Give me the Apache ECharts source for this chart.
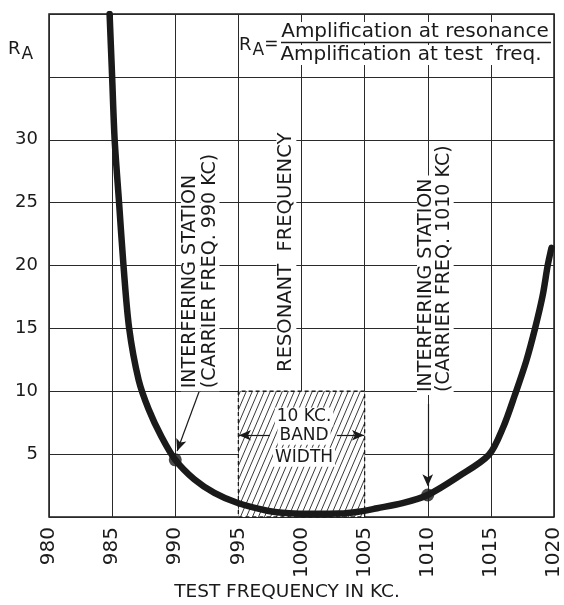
<!DOCTYPE html>
<html>
<head>
<meta charset="utf-8">
<script src="https://cdn.jsdelivr.net/npm/echarts@6/dist/echarts.min.js"></script>
<style>html,body{margin:0;padding:0;background:#fff}#c{width:564px;height:605px}</style>
</head>
<body>
<div id="c"></div>
<script>
// ---- data ----
const freq = [984.8, 985.0, 985.2, 985.55, 985.9, 986.35, 987.1, 987.9, 988.9, 990, 991.5, 993.1, 994.9, 997.3, 999, 1001, 1003, 1004.5, 1006, 1008, 1010, 1012.4, 1014.85, 1016, 1016.9, 1017.8, 1018.5, 1019.1, 1019.5, 1019.8];
const ratio = [40, 35, 30, 25, 20, 15, 10.9, 8.55, 6.4, 4.55, 3.0, 1.92, 1.13, 0.5, 0.3, 0.25, 0.27, 0.42, 0.7, 1.1, 1.75, 3.2, 4.95, 7.2, 9.7, 12.4, 15, 17.6, 20, 21.4];
const stationFreq = [990, 1010];
const stationRatio = [4.55, 1.75];
const bandRange = [995, 1005];
const bandHeight = 10;
const xTicks = [980, 985, 990, 995, 1000, 1005, 1010, 1015, 1020];
const yTickLabels = [5, 10, 15, 20, 25, 30];

const FONT = '"DejaVu Sans", sans-serif';
const INK = '#1a1a1a';

// hatch pattern
const pc = document.createElement('canvas');
pc.width = 6; pc.height = 14;
const pctx = pc.getContext('2d');
pctx.fillStyle = '#fff'; pctx.fillRect(0, 0, 6, 14);
pctx.strokeStyle = '#3a3a3a'; pctx.lineWidth = 1;
[-6, 0, 6].forEach(dx => {
  pctx.beginPath(); pctx.moveTo(dx, 14); pctx.lineTo(dx + 6, 0); pctx.stroke();
});

const curve = freq.map((f, i) => [f, ratio[i]]);
const stations = stationFreq.map((f, i) => [f, stationRatio[i]]);

const chart = echarts.init(document.getElementById('c'), null, {renderer: 'canvas'});
chart.setOption({
  animation: false,
  backgroundColor: '#fff',
  grid: {left: 49, right: 3, top: 14, bottom: 88, show: true, borderColor: INK, borderWidth: 1.5, backgroundColor: 'transparent'},
  xAxis: {
    type: 'value', min: xTicks[0], max: xTicks[xTicks.length - 1], interval: 5,
    axisLine: {show: false}, axisTick: {show: false},
    splitLine: {show: true, lineStyle: {color: '#2a2a2a', width: 1}},
    axisLabel: {rotate: 90, margin: 10, fontFamily: FONT, fontSize: 20, color: INK,
      formatter: v => xTicks.includes(v) ? String(v) : ''}
  },
  yAxis: {
    type: 'value', min: 0, max: 40, interval: 5,
    axisLine: {show: false}, axisTick: {show: false},
    splitLine: {show: true, lineStyle: {color: '#2a2a2a', width: 1}},
    axisLabel: {margin: 11, fontFamily: FONT, fontSize: 18, color: INK,
      formatter: v => yTickLabels.includes(v) ? String(v) : ''}
  },
  series: [
    {
      type: 'line', data: [], z: 1, silent: true,
      markArea: {
        silent: true,
        itemStyle: {color: {image: pc, repeat: 'repeat'}, borderColor: INK, borderWidth: 1.3, borderType: [4, 3]},
        data: [[{coord: [bandRange[0], 0]}, {coord: [bandRange[1], bandHeight]}]]
      }
    },
    {
      type: 'line', data: curve, smooth: 0.3, showSymbol: false, z: 5,
      lineStyle: {color: INK, width: 6.5, cap: 'round', join: 'round'}, clip: true
    },
    {
      type: 'scatter', data: stations, symbolSize: 13, z: 6,
      itemStyle: {color: INK}
    }
  ]
});

function px(f, r) { return chart.convertToPixel({gridIndex: 0}, [f, r]); }

const g = [];
function vtext(f, r, text, size) {
  const p = px(f, r);
  g.push({type: 'text', x: p[0], y: p[1], rotation: Math.PI / 2, z: 10,
    style: {text, font: size + 'px ' + FONT, fill: INK, align: 'left', verticalAlign: 'middle',
      backgroundColor: '#fff', padding: [0, 3]}});
}
vtext(991.2, 10.0, 'INTERFERING STATION', 19);
vtext(992.75, 10.0, '(CARRIER FREQ. 990 KC)', 19);
vtext(998.8, 11.3, 'RESONANT  FREQUENCY', 19.5);
vtext(1009.9, 9.7, 'INTERFERING STATION', 19);
vtext(1011.3, 9.7, '(CARRIER FREQ. 1010 KC)', 19);

// band text
[['10 KC.', 7.95], ['BAND', 6.5], ['WIDTH', 4.75]].forEach(([t, r]) => {
  const p = px(1000.2, r);
  g.push({type: 'text', x: p[0], y: p[1], z: 10,
    style: {text: t, font: '17px ' + FONT, fill: INK, align: 'center', verticalAlign: 'middle', backgroundColor: '#fff', padding: [1, 2]}});
});

// axis title
g.push({type: 'text', x: 287, y: 592, z: 10,
  style: {text: 'TEST FREQUENCY IN KC.', font: '18.5px ' + FONT, fill: INK, align: 'center', verticalAlign: 'middle'}});

// RA label
g.push({type: 'text', x: 8, y: 49, z: 10,
  style: {text: '{r|R}{a|A}', verticalAlign: 'middle', align: 'left',
    rich: {r: {font: '18px ' + FONT, fill: INK}, a: {font: '17px ' + FONT, fill: INK, padding: [12, 0, 0, 1]}}}});

// formula
g.push({type: 'text', x: 239, y: 45, z: 10,
  style: {text: '{r|R}{a|A}{e|=}', verticalAlign: 'middle', align: 'left', backgroundColor: '#fff',
    rich: {r: {font: '18px ' + FONT, fill: INK}, a: {font: '17px ' + FONT, fill: INK, padding: [12, 0, 0, 1]}, e: {font: '17px ' + FONT, fill: INK}}}});
g.push({type: 'text', x: 415, y: 32, z: 10,
  style: {text: 'Amplification at resonance', font: '20px ' + FONT, fill: INK, align: 'center', verticalAlign: 'middle', backgroundColor: '#fff'}});
g.push({type: 'line', shape: {x1: 281, y1: 42.5, x2: 551, y2: 42.5}, style: {stroke: INK, lineWidth: 1.5}, z: 10});
g.push({type: 'text', x: 411, y: 55, z: 10,
  style: {text: 'Amplification at test  freq.', font: '20px ' + FONT, fill: INK, align: 'center', verticalAlign: 'middle', backgroundColor: '#fff'}});

chart.setOption({graphic: g});

// arrows
chart.setOption({
  series: [{}, {}, {}, {
    type: 'line', data: [], z: 7, silent: true,
    markLine: {
      silent: true, symbol: ['none', 'arrow'], symbolSize: [8, 12],
      lineStyle: {color: INK, width: 1.2, type: 'solid'}, label: {show: false},
      data: [
        [{coord: [991.9, 10.0]}, {coord: [990.15, 5.25]}],
        [{coord: [1010, 9.0]}, {coord: [1010, 2.45]}],
        [{coord: [997.5, 6.5]}, {coord: [995.05, 6.5]}],
        [{coord: [1002.8, 6.5]}, {coord: [1004.95, 6.5]}]
      ]
    }
  }]
});
</script>
</body>
</html>
